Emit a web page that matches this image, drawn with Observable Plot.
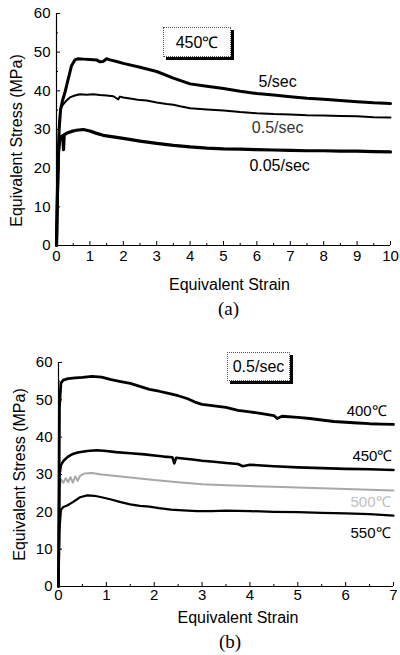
<!DOCTYPE html>
<html><head><meta charset="utf-8">
<script src="https://cdn.jsdelivr.net/npm/d3@7"></script>
<script src="https://cdn.jsdelivr.net/npm/@observablehq/plot@0.6"></script>
<style>
body{margin:0;background:#fff;}
#wrap{position:relative;width:400px;height:655px;overflow:hidden;}
#wrap svg{display:block;}
.box{position:absolute;border:1px dotted #555;box-shadow:3px 3px 0 #000;font:16px "Liberation Sans",Arial,sans-serif;display:flex;align-items:center;justify-content:center;background:#fff;color:#000;box-sizing:border-box;}
</style></head><body><div id="wrap"></div><script>
// ---------- Panel (a): 450 °C ----------
const ticksXA = [0,1,2,3,4,5,6,7,8,9,10];
const minorXA = [0.5,1.5,2.5,3.5,4.5,5.5,6.5,7.5,8.5,9.5];
const ticksY = [0,10,20,30,40,50,60];
const minorY = [5,15,25,35,45,55];

const strainA5 = [0,0.04,0.08,0.12,0.18,0.25,0.35,0.45,0.55,0.65,0.8,1.0,1.2,1.3,1.4,1.5,1.6,1.8,2.0,2.5,3.0,3.5,4.0,4.5,5.0,5.5,6.0,6.5,7.0,7.5,8.0,8.5,9.0,9.5,10];
const stressA5 = [0,18,30,35,37.5,39.5,43,46.5,48,48.3,48.2,48.1,48,47.5,47.6,48.3,48,47.6,47.1,46.1,45.0,43.3,41.8,41.2,40.6,39.9,39.3,38.9,38.5,38.1,37.8,37.5,37.2,36.9,36.7];

const strainA05 = [0,0.04,0.08,0.12,0.2,0.3,0.4,0.55,0.7,0.9,1.1,1.3,1.5,1.7,1.85,1.9,2.0,2.3,2.5,2.7,3.0,3.3,3.5,3.7,4.0,4.5,5.0,5.5,6.0,6.5,7.0,7.5,8.0,8.5,9.0,9.5,10];
const stressA05 = [0,20,31,35.5,36.5,37.5,38.3,38.8,39.1,39.0,39.1,38.9,38.8,38.6,37.8,38.5,38.3,37.9,37.6,37.5,37.0,36.6,36.4,36.0,35.5,35.2,34.9,34.5,34.2,34.0,33.9,33.7,33.6,33.5,33.4,33.2,33.1];

const strainA005 = [0,0.03,0.06,0.1,0.15,0.19,0.21,0.23,0.3,0.45,0.6,0.8,1.0,1.2,1.4,1.7,2.0,2.5,3.0,3.5,4.0,4.5,5.0,5.5,6.0,6.5,7.0,7.5,8.0,8.5,9.0,9.5,10];
const stressA005 = [0,14,24,27.5,28.2,28.4,24.8,28.6,29.0,29.5,29.8,30.0,29.6,29.0,28.5,28.1,27.7,27.0,26.4,25.9,25.5,25.2,25.0,24.9,24.8,24.7,24.6,24.5,24.5,24.4,24.4,24.3,24.2];

const labelsA = [
  {x:6.62, y:42.4, text:"5/sec", tone:"#000"},
  {x:6.62, y:30.3, text:"0.5/sec", tone:"#333"},
  {x:6.68, y:20.7, text:"0.05/sec", tone:"#000"}
];

// ---------- Panel (b): 0.5/sec ----------
const ticksXB = [0,1,2,3,4,5,6,7];
const minorXB = [0.5,1.5,2.5,3.5,4.5,5.5,6.5];

const strainB400 = [0,0.02,0.05,0.1,0.2,0.35,0.5,0.7,0.9,1.1,1.3,1.5,1.7,1.9,2.1,2.3,2.5,2.7,2.85,3.0,3.25,3.5,3.75,4.0,4.25,4.5,4.57,4.67,5.0,5.25,5.5,5.75,6.0,6.25,6.5,6.75,7.0];
const stressB400 = [0,48,54.5,55.3,55.7,55.9,56.0,56.3,56.1,55.4,54.9,54.4,53.6,52.8,52.3,51.7,51.1,50.3,49.4,48.8,48.4,48.0,47.2,46.8,46.3,45.8,45.0,45.6,45.3,45.0,44.6,44.2,44.0,43.8,43.6,43.5,43.4];

const strainB450 = [0,0.02,0.05,0.1,0.2,0.3,0.4,0.6,0.8,1.0,1.2,1.5,1.8,2.0,2.2,2.38,2.42,2.46,2.6,2.8,3.0,3.25,3.5,3.75,3.85,4.0,4.5,5.0,5.5,6.0,6.5,7.0];
const stressB450 = [0,30,32.5,33.6,34.8,35.5,35.9,36.3,36.5,36.3,36.0,35.7,35.4,35.1,34.8,34.6,33.0,34.5,34.3,34.0,33.7,33.4,33.1,32.8,32.2,32.6,32.2,31.9,31.7,31.5,31.4,31.2];

const strainB500 = [0,0.02,0.05,0.1,0.15,0.2,0.25,0.3,0.35,0.4,0.45,0.55,0.7,0.9,1.2,1.5,2.0,2.5,3.0,3.5,4.0,4.5,5.0,5.5,6.0,6.5,7.0];
const stressB500 = [0,26,28.8,27.8,29.0,28.0,29.3,27.8,29.5,28.3,29.6,30.3,30.4,30.0,29.6,29.2,28.5,27.9,27.4,27.1,26.9,26.7,26.5,26.3,26.1,25.9,25.7];

const strainB550 = [0,0.02,0.05,0.1,0.18,0.3,0.45,0.6,0.75,0.9,1.1,1.3,1.5,1.7,1.9,2.1,2.35,2.6,2.9,3.2,3.5,4.0,4.5,5.0,5.5,6.0,6.5,7.0];
const stressB550 = [0,15,20.5,21.3,21.7,22.6,23.9,24.4,24.3,23.9,23.3,22.6,22.0,21.6,21.4,21.0,20.6,20.4,20.2,20.2,20.3,20.2,20.0,19.9,19.7,19.6,19.4,19.0];

const labelsB = [
  {x:6.44, y:46.9, text:"400℃", tone:"#000"},
  {x:6.56, y:34.8, text:"450℃", tone:"#000"},
  {x:6.52, y:22.5, text:"500℃", tone:"#c0c0c0"},
  {x:6.52, y:14.2, text:"550℃", tone:"#000"}
];

const rows = (xs, ys) => xs.map((x, i) => ({x, y: ys[i]}));
const font = '"Liberation Sans", Arial, Helvetica, sans-serif';
const serif = '"Liberation Serif", "Times New Roman", serif';

function axes(ticksX, minorX, padX) {
  return [
    Plot.ruleY([0], {stroke: "#000", strokeWidth: 1}),
    Plot.ruleX([0], {stroke: "#000", strokeWidth: 1.2}),
    Plot.axisX(ticksX, {tickSize: -4, tickPadding: padX, label: null, fontSize: 15}),
    Plot.axisX(minorX, {tickSize: -2, tickFormat: () => "", label: null}),
    Plot.axisY(ticksY, {tickSize: -4, tickPadding: 10, label: null, fontSize: 15}),
    Plot.axisY(minorY, {tickSize: -2, tickFormat: () => "", label: null})
  ];
}

function yTitle(dx, dy) {
  return Plot.text(["Equivalent Stress (MPa)"], {
    frameAnchor: "left", textAnchor: "middle", lineAnchor: "middle",
    rotate: -90, dx, dy, fontSize: 16
  });
}
function bottomText(t, dx, dy, size, family) {
  return Plot.text([t], {frameAnchor: "bottom", textAnchor: "middle", lineAnchor: "middle", dx, dy, fontSize: size, fontFamily: family});
}

const plotA = Plot.plot({
  width: 400, height: 327,
  marginLeft: 56, marginRight: 10, marginTop: 13, marginBottom: 82,
  x: {domain: [0, 10]},
  y: {domain: [0, 60]},
  style: {fontFamily: font, fontSize: "15px", color: "#000", background: "#fff", overflow: "visible"},
  marks: [
    ...axes(ticksXA, minorXA, 9),
    Plot.line(rows(strainA005, stressA005), {x: "x", y: "y", stroke: "#000", strokeWidth: 3.2}),
    Plot.line(rows(strainA05, stressA05), {x: "x", y: "y", stroke: "#000", strokeWidth: 2}),
    Plot.line(rows(strainA5, stressA5), {x: "x", y: "y", stroke: "#000", strokeWidth: 3}),
    Plot.text(labelsA, {x: "x", y: "y", text: "text", fontSize: 16, fill: "tone"}),
    bottomText("Equivalent Strain", 6, 39, 16, font),
    yTitle(-40, 11),
    bottomText("(a)", 5, 63, 19, serif)
  ]
});

const plotB = Plot.plot({
  width: 400, height: 328,
  marginLeft: 58, marginRight: 7, marginTop: 35, marginBottom: 69,
  x: {domain: [0, 7]},
  y: {domain: [0, 60]},
  style: {fontFamily: font, fontSize: "15px", color: "#000", background: "#fff", overflow: "visible"},
  marks: [
    ...axes(ticksXB, minorXB, 7),
    Plot.line(rows(strainB500, stressB500), {x: "x", y: "y", stroke: "#a8a8a8", strokeWidth: 2}),
    Plot.line(rows(strainB550, stressB550), {x: "x", y: "y", stroke: "#000", strokeWidth: 2.2}),
    Plot.line(rows(strainB450, stressB450), {x: "x", y: "y", stroke: "#000", strokeWidth: 2.6}),
    Plot.line(rows(strainB400, stressB400), {x: "x", y: "y", stroke: "#000", strokeWidth: 2.8}),
    Plot.text(labelsB, {x: "x", y: "y", text: "text", fontSize: 15, fill: "tone"}),
    bottomText("Equivalent Strain", 12, 31, 16, font),
    yTitle(-39, 0),
    bottomText("(b)", 4, 55, 19, serif)
  ]
});

const wrap = document.getElementById("wrap");
wrap.appendChild(plotA);
wrap.appendChild(plotB);

function box(text, left, top, w, h) {
  const d = document.createElement("div");
  d.className = "box";
  d.style.left = left + "px"; d.style.top = top + "px";
  d.style.width = w + "px"; d.style.height = h + "px";
  d.textContent = text;
  wrap.appendChild(d);
}
box("450℃", 163, 27, 68, 30);
box("0.5/sec", 227, 352, 63, 29);
</script></body></html>
